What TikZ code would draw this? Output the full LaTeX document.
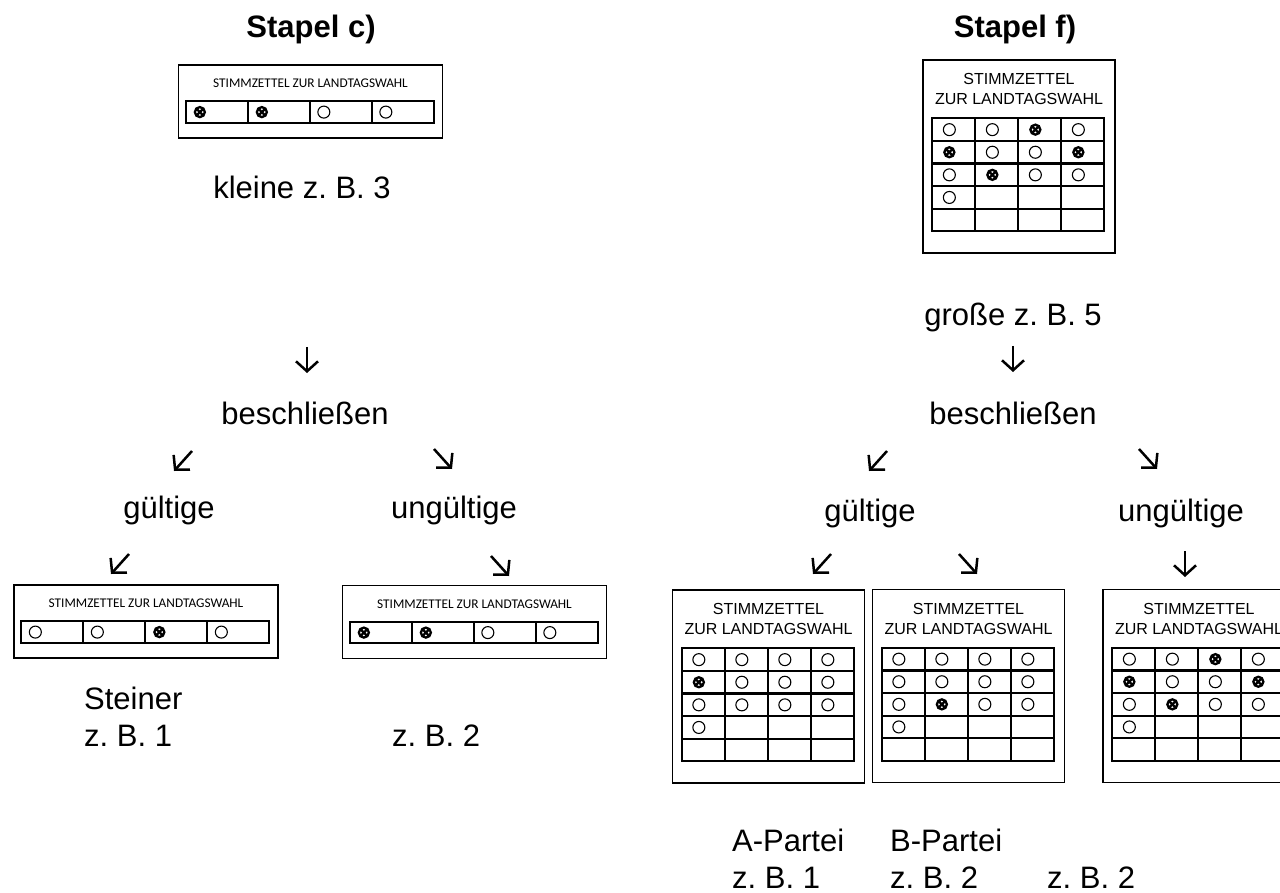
\documentclass[tikz,border=0pt]{standalone}
\usepackage{fontspec}
\setmainfont{Liberation Sans}
\newfontfamily\zettelfont{Carlito}
\usetikzlibrary{arrows.meta}
\frenchspacing

\tikzstyle{titel} = [font=\fontsize{31}{36}\selectfont\bfseries, anchor=base, inner sep=0pt]
\tikzstyle{beschrift} = [font=\fontsize{31}{37}\selectfont, anchor=base, inner sep=0pt]
\tikzstyle{links} = [beschrift, anchor=base west]
\tikzstyle{kzettel} = [draw, line width=1.3pt, minimum width=264pt, minimum height=73pt, inner sep=0pt]
\tikzstyle{gzettel} = [draw, line width=1.3pt, minimum width=192pt, minimum height=193pt, inner sep=0pt]
\tikzstyle{ktitel} = [font=\zettelfont\fontsize{13.3}{16}\selectfont, inner sep=0pt]
\tikzstyle{gtitel} = [font=\fontsize{16}{20}\selectfont, align=center, inner sep=0pt]
\tikzstyle{gitter} = [line width=2.2pt]
\tikzstyle{leer} = [line width=1.1pt]
\tikzstyle{kreuz} = [line width=2.3pt]
\tikzstyle{pfeil} = [line width=2.5pt, -{Straight Barb[length=10pt, width=22pt]}]

% o = leerer Kreis, x = angekreuzt, - = nichts
\newcommand{\zeichen}[2]{%
  \if#1x\draw [kreuz] #2 circle (5) +(-3.3,-3.3) -- +(3.3,3.3) +(-3.3,3.3) -- +(3.3,-3.3);\fi
  \if#1o\draw [leer] #2 circle (6);\fi}

% kleiner Stimmzettel: eine Zeile mit vier Feldern
\newcommand{\kleinzettel}[3]{%
  \node (#1) at #2 [kzettel] {};
  \node (#1titel) [ktitel] at ([shift={(0,19)}]#1.north) {STIMMZETTEL ZUR LANDTAGSWAHL};
  \draw [gitter] ([shift={(8,37)}]#1.north west) rectangle ([shift={(256,58.5)}]#1.north west);
  \foreach \i in {1,2,3}
    \draw [gitter] ([shift={(8+62*\i,37)}]#1.north west) -- ++(0,21.5);
  \foreach \m [count=\i from 0] in {#3}
    \zeichen{\m}{([shift={(22+62*\i,47.75)}]#1.north west)};
}

% grosser Stimmzettel: 5 Zeilen, 4 Spalten
\newcommand{\grosszettel}[3]{%
  \node (#1) at #2 [gzettel] {};
  \node (#1titel) [gtitel] at ([shift={(0,30)}]#1.north) {STIMMZETTEL\\ZUR LANDTAGSWAHL};
  \draw [gitter] ([shift={(10,59)}]#1.north west) rectangle ([shift={(182,172)}]#1.north west);
  \foreach \i in {1,2,3}
    \draw [gitter] ([shift={(10+43*\i,59)}]#1.north west) -- ++(0,113);
  \foreach \j in {1,...,4}
    \draw [gitter] ([shift={(10,59+22.6*\j)}]#1.north west) -- ++(172,0);
  \foreach \m [count=\k from 0] in {#3} {
    \pgfmathtruncatemacro\spalte{mod(\k,4)}
    \pgfmathtruncatemacro\zeile{int(\k/4)}
    \zeichen{\m}{([shift={(27+43*\spalte,70.3+22.6*\zeile)}]#1.north west)}
  }
}

\begin{document}
\begin{tikzpicture}[x=1pt, y=-1pt]

\useasboundingbox (0,0) rectangle (1280,893);
\clip (0,0) rectangle (1280,893);

% Stapel c)
\node (stapelc) [titel] at (311,38) {Stapel c)};
\kleinzettel{zettelc}{(310.5,101.5)}{x,x,o,o}
\node (kleine) [beschrift] at (302,199) {kleine z. B. 3};

\coordinate (pfc1) at (307,347);
\draw [pfeil] (pfc1) -- ++(0,26);
\node (beschlc) [beschrift] at (305,424) {beschließen};

\coordinate (pfc2) at (192,451);
\coordinate (pfc3) at (434,449);
\draw [pfeil] (pfc2) -- ++(-18,20);
\draw [pfeil] (pfc3) -- ++(18,20);
\node (gueltc) [beschrift] at (169,518) {gültige};
\node (unguelc) [beschrift] at (454,518) {ungültige};

\coordinate (pfc4) at (129,554);
\coordinate (pfc5) at (491,556);
\draw [pfeil] (pfc4) -- ++(-18,20);
\draw [pfeil] (pfc5) -- ++(18,20);

\kleinzettel{zettelc1}{(146,621.5)}{o,o,x,o}
\kleinzettel{zettelc2}{(474.5,622)}{x,x,o,o}

\node (steiner) [links] at (84,709) {Steiner};
\node (zbc1) [links] at ([yshift=-37pt]steiner.base west) {z. B. 1};
\node (zbc2) [links] at (392,746) {z. B. 2};

% Stapel f)
\node (stapelf) [titel] at (1015,38) {Stapel f)};
\grosszettel{zettelf}{(1019,156.5)}{o,o,x,o, x,o,o,x, o,x,o,o, o,-,-,-}
\node (grosse) [beschrift] at (1013,326) {große z. B. 5};

\coordinate (pff1) at (1013,346);
\draw [pfeil] (pff1) -- ++(0,26);
\node (beschlf) [beschrift] at (1013,424) {beschließen};

\coordinate (pff2) at (887,451);
\coordinate (pff3) at (1139,449);
\draw [pfeil] (pff2) -- ++(-18,20);
\draw [pfeil] (pff3) -- ++(18,20);
\node (gueltf) [beschrift] at (870,521) {gültige};
\node (unguelf) [beschrift] at (1181,521) {ungültige};

\coordinate (pff4) at (831,554);
\coordinate (pff5) at (959,554);
\coordinate (pff6) at (1185,551);
\draw [pfeil] (pff4) -- ++(-18,20);
\draw [pfeil] (pff5) -- ++(18,20);
\draw [pfeil] (pff6) -- ++(0,26);

\grosszettel{zettela}{(768.5,686.5)}{o,o,o,o, x,o,o,o, o,o,o,o, o,-,-,-}
\grosszettel{zettelb}{(968.5,686)}{o,o,o,o, o,o,o,o, o,x,o,o, o,-,-,-}
\grosszettel{zettelu}{(1199,686)}{o,o,x,o, x,o,o,x, o,x,o,o, o,-,-,-}

\node (apartei) [links] at (732,851) {A-Partei};
\node (zbf1) [links] at ([yshift=-37pt]apartei.base west) {z. B. 1};
\node (bpartei) [links] at (890,851) {B-Partei};
\node (zbf2) [links] at ([yshift=-37pt]bpartei.base west) {z. B. 2};
\node (zbf3) [links] at (1047,888) {z. B. 2};

\end{tikzpicture}
\end{document}
